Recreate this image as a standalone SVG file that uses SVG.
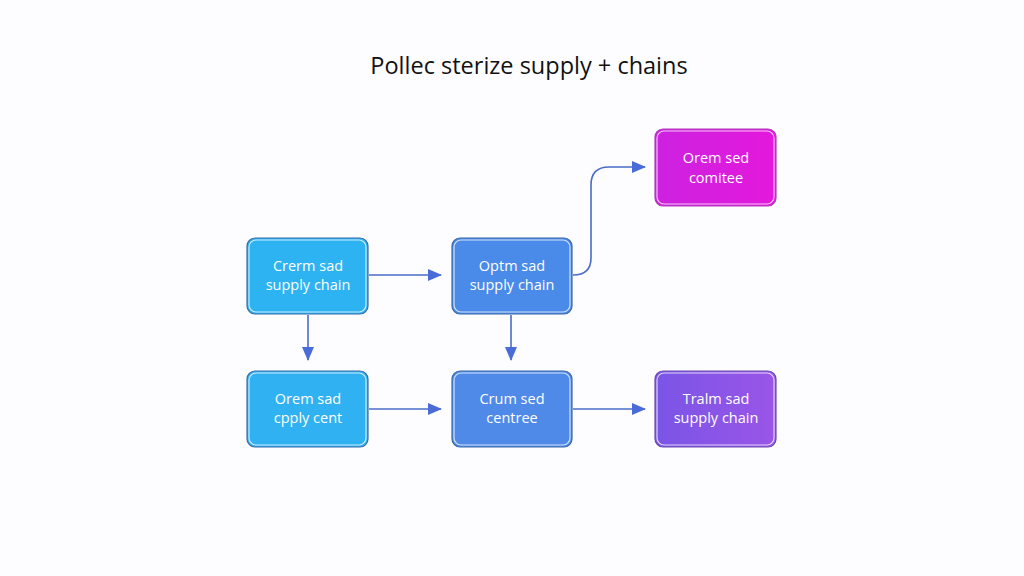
<svg xmlns="http://www.w3.org/2000/svg" width="1024" height="576" viewBox="0 0 1024 576">
<style>
.node rect.b{stroke:#3b6aa8;stroke-width:1.2}
.node rect.i{fill:none;stroke:#ffffff;stroke-opacity:0.75;stroke-width:1.2}
.node text{font-family:"Open Sans","Liberation Sans",sans-serif;font-size:14.5px;fill:#ffffff;text-anchor:middle}
.edge{fill:none;stroke:#4a6cc8;stroke-width:1.6}
.title{font-family:"Open Sans","Liberation Sans",sans-serif;font-size:23.5px;fill:#111111;text-anchor:middle}
</style>
<defs>
<marker id="ah" markerWidth="14" markerHeight="12" refX="13" refY="6" orient="auto" markerUnits="userSpaceOnUse">
<path d="M0,0 L14,6 L0,12 Z" fill="#4a6cd8"/>
</marker>
<linearGradient id="gm" x1="0" y1="0" x2="1" y2="0">
<stop offset="0" stop-color="#cc22e0"/><stop offset="1" stop-color="#e418dc"/>
</linearGradient>
<linearGradient id="gp" x1="0" y1="0" x2="1" y2="0">
<stop offset="0" stop-color="#7a55e6"/><stop offset="1" stop-color="#9a55e8"/>
</linearGradient>
</defs>
<rect width="1024" height="576" fill="#fdfdff"/>
<text class="title" x="529" y="74">Pollec sterize supply + chains</text>
<g id="connectors">
<path class="edge" d="M369,275 L441,275" marker-end="url(#ah)"/>
<path class="edge" d="M308,315 L308,360" marker-end="url(#ah)"/>
<path class="edge" d="M511,315 L511,360" marker-end="url(#ah)"/>
<path class="edge" d="M369,409 L441,409" marker-end="url(#ah)"/>
<path class="edge" d="M573,409 L645,409" marker-end="url(#ah)"/>
<path class="edge" d="M573,275 Q591,275 591,258 L591,185 Q591,167 609,167 L645,167" marker-end="url(#ah)"/>
</g>
<g id="n1" class="node">
<rect class="b" x="247" y="238" width="121" height="76" rx="8" fill="#2db2f2"/>
<rect class="i" x="249" y="240" width="117" height="72" rx="7"/>
<text x="308" y="271">Crerm sad</text><text x="308" y="290">supply chain</text>
</g>
<g id="n2" class="node">
<rect class="b" x="452" y="238" width="120" height="76" rx="8" fill="#4a8ae8"/>
<rect class="i" x="454" y="240" width="116" height="72" rx="7"/>
<text x="512" y="271">Optm sad</text><text x="512" y="290">supply chain</text>
</g>
<g id="n3" class="node">
<rect class="b" x="655" y="129" width="121" height="77" rx="8" fill="url(#gm)" style="stroke:#b03ab8"/>
<rect class="i" x="657" y="131" width="117" height="73" rx="7"/>
<text x="716" y="163">Orem sed</text><text x="716" y="183">comitee</text>
</g>
<g id="n4" class="node">
<rect class="b" x="247" y="371" width="121" height="76" rx="8" fill="#30b2f2"/>
<rect class="i" x="249" y="373" width="117" height="72" rx="7"/>
<text x="308" y="404">Orem sad</text><text x="308" y="423">cpply cent</text>
</g>
<g id="n5" class="node">
<rect class="b" x="452" y="371" width="120" height="76" rx="8" fill="#4f8ae8"/>
<rect class="i" x="454" y="373" width="116" height="72" rx="7"/>
<text x="512" y="404">Crum sed</text><text x="512" y="423">centree</text>
</g>
<g id="n6" class="node">
<rect class="b" x="655" y="371" width="121" height="76" rx="8" fill="url(#gp)" style="stroke:#6a4ab0"/>
<rect class="i" x="657" y="373" width="117" height="72" rx="7"/>
<text x="716" y="404">Tralm sad</text><text x="716" y="423">supply chain</text>
</g>
</svg>
